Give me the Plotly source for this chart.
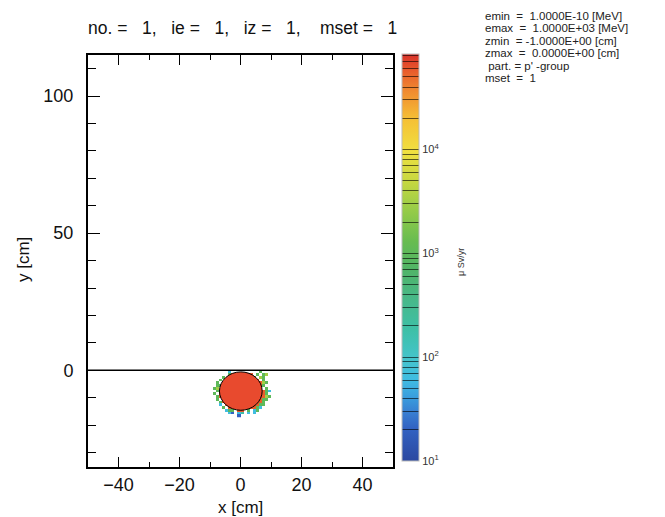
import math
import plotly.graph_objects as go

# ---- data ----
mesh_x = [-9.5, -8.5, -7.5, -6.5, -5.5, -4.5, -3.5, -2.5, -1.5, -0.5,
          0.5, 1.5, 2.5, 3.5, 4.5, 5.5, 6.5, 7.5, 8.5, 9.5]
mesh_y = [-0.5, -1.5, -2.5, -3.5, -4.5, -5.5, -6.5, -7.5, -8.5,
          -9.5, -10.5, -11.5, -12.5, -13.5, -14.5, -15.5, -16.5]
# dose map, one string per mesh row (top to bottom), one char per column
dose_rows = [
    "......c.........g...",
    "......gRRRRRRR.g.gy.",
    "....g.RRRRRRRRg.yg..",
    "...g.RRRRRRRRRRR.g..",
    "..g.RRRRRRRRRRRRRyg.",
    "..ggRRRRRRRRRRRRRg..",
    ".gy.RRRRRRRRRRRRR.g.",
    "..gRRRRRRRRRRRRRRRgc",
    ".g.RRRRRRRRRRRRRRRg.",
    "..gRRRRRRRRRRRRRRRyg",
    "..g.RRRRRRRRRRRRRgg.",
    "...gRRRRRRRRRRRRRg..",
    "...c.RRRRRRRRRRRgg..",
    "....g.RRRRRRRRRgc...",
    ".....cgg.RR.g.cg....",
    "......cb.ct.c.c.....",
    ".........b..........",
]
# log10(dose [uSv/yr]) for each code letter
dose_code = {"R": 4.75, "y": 3.5, "g": 3.0, "t": 2.3, "c": 1.8, "b": 1.3}
cbar_min, cbar_max = 1.0, 4.92
# geometry: source cell (circle) and a surface at y = 0
source_cx, source_cy, source_r = 0.1, -7.6, 7.0
surface_y = [0.0]

header_lines = [
    "emin  =  1.0000E-10 [MeV]",
    "emax  =  1.0000E+03 [MeV]",
    "zmin  = -1.0000E+00 [cm]",
    "zmax  =  0.0000E+00 [cm]",
    " part. = p' -group",
    "mset  =  1",
]

colorscale = [
    [0.00, "#2b48a0"], [0.08, "#3262c2"], [0.12, "#387fd2"], [0.16, "#3aa0de"],
    [0.20, "#40bce2"], [0.25, "#44c4cc"], [0.32, "#3ec0a8"], [0.40, "#48b888"],
    [0.47, "#50b468"], [0.54, "#68bc50"], [0.62, "#98cc48"], [0.69, "#c8d840"],
    [0.76, "#f0e040"], [0.84, "#f5c035"], [0.91, "#f08a30"], [0.96, "#e85a2c"],
    [1.00, "#d8302a"],
]

z = [[dose_code.get(ch) for ch in row] for row in dose_rows]

tickvals, ticktext = [], []
for dec in range(1, 5):
    for m in range(1, 10):
        lv = math.log10(m * 10 ** dec)
        if lv <= cbar_max + 1e-9:
            tickvals.append(lv)
            ticktext.append(f"10<sup>{dec}</sup>" if m == 1 else "")

FONT = "Liberation Sans, Arial, Helvetica, sans-serif"
NB = "\u00a0"

# page offset of the figure inside the browser window
OFF = 8
W, H = 665, 517
# plot area in window pixels: x 88..393, y 55..467
L = 88 - OFF
T = 55 - OFF
R = W - (393 - OFF)
B = H - (467 - OFF)
pw, ph = W - L - R, H - T - B


def px(xw):
    return (xw - OFF - L) / pw


def py(yw):
    return (H - B - (yw - OFF)) / ph


fig = go.Figure()
fig.add_trace(go.Heatmap(
    x=mesh_x, y=mesh_y, z=z, zmin=cbar_min, zmax=cbar_max,
    colorscale=colorscale, hoverongaps=False,
    colorbar=dict(
        x=px(402), xanchor="left", xpad=0,
        y=py(54), yanchor="top", ypad=0,
        lenmode="pixels", len=407, thickness=17,
        tickmode="array", tickvals=tickvals, ticktext=ticktext,
        ticks="inside", ticklen=17, tickcolor="rgba(0,0,0,0.6)", tickwidth=1,
        outlinewidth=1, outlinecolor="#bbbbbb",
        tickfont=dict(family=FONT, size=11, color="#333"),
    ),
))

# geometry boundaries
fig.add_shape(type="line", xref="x domain", yref="y", x0=0, x1=1,
              y0=surface_y[0], y1=surface_y[0], line=dict(color="black", width=1.5))
fig.add_shape(type="circle", xref="x", yref="y",
              x0=source_cx - source_r, x1=source_cx + source_r,
              y0=source_cy - source_r, y1=source_cy + source_r,
              fillcolor="#e84a2e", line=dict(color="black", width=1))

axis_common = dict(showgrid=False, zeroline=False, showline=True, linecolor="black",
                   linewidth=2, mirror="ticks", ticks="inside", tickcolor="black",
                   tickwidth=1, automargin=False,
                   tickfont=dict(family=FONT, size=18, color="#111"))
fig.update_xaxes(range=[-50, 50], tickmode="linear", tick0=0, dtick=20, ticklen=10,
                 minor=dict(dtick=10, ticks="inside", ticklen=5, tickcolor="black"),
                 **axis_common)
fig.update_yaxes(range=[-35.3, 115], tickmode="linear", tick0=0, dtick=50, ticklen=12,
                 minor=dict(dtick=10, ticks="inside", ticklen=8, tickcolor="black"),
                 ticklabelstandoff=9,
                 **axis_common)

S3 = NB * 3
title = f"no. ={S3}1,{S3}ie ={S3}1,{S3}iz ={S3}1,{S3}{NB}mset ={S3}1"
fig.add_annotation(text=title, xref="paper", yref="paper", x=px(86), y=py(28),
                   xanchor="left", yanchor="middle", showarrow=False,
                   font=dict(family=FONT, size=17.5, color="#111"))
fig.add_annotation(text="x [cm]", xref="paper", yref="paper", x=px(240), y=py(507),
                   xanchor="center", yanchor="middle", showarrow=False,
                   font=dict(family=FONT, size=17, color="#111"))
fig.add_annotation(text="y [cm]", xref="paper", yref="paper", x=px(23), y=py(260),
                   xanchor="center", yanchor="middle", showarrow=False, textangle=-90,
                   font=dict(family=FONT, size=17, color="#111"))

for i, line in enumerate(header_lines):
    fig.add_annotation(text=line.replace(" ", NB), xref="paper", yref="paper",
                       x=px(484), y=py(16 + 12.4 * i), xanchor="left", yanchor="middle",
                       showarrow=False, borderpad=0,
                       font=dict(family=FONT, size=11.5, color="#222"))

fig.add_annotation(text="\u03bc Sv/yr", xref="paper", yref="paper",
                   x=px(461), y=py(262), textangle=-90,
                   xanchor="center", yanchor="middle", showarrow=False,
                   font=dict(family=FONT, size=9, color="#333"))

fig.update_layout(width=W, height=H,
                  margin=dict(l=L, r=R, t=T, b=B, autoexpand=False),
                  paper_bgcolor="white", plot_bgcolor="white", showlegend=False)
fig.write_html("out.html")
